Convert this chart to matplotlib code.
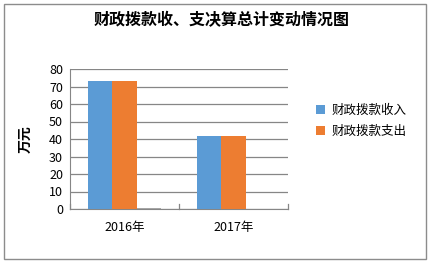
import numpy as np
import matplotlib
matplotlib.use('Agg')
import matplotlib.pyplot as plt
from matplotlib.patches import Rectangle

plt.rcParams['font.family'] = ['Noto Sans CJK SC', 'DejaVu Sans']

# dati
years = ['2016年', '2017年']
income = [73, 42]
expense = [73, 42]
other = [0.5, 0]
series_names = ['财政拨款收入', '财政拨款支出']
yticks = list(range(0, 81, 10))

W, H = 431, 268
fig = plt.figure(figsize=(W / 100, H / 100), dpi=100)

# bordo esterno
fig.patches.append(Rectangle((4 / W, 9 / H), 422 / W, 255 / H, transform=fig.transFigure,
                             fill=False, edgecolor='#8c8c8c', linewidth=1.0))

ax = fig.add_axes([70 / W, 1 - 209 / H, 218 / W, 140 / H])

x = np.arange(len(years))
bw = 0.225
ax.bar(x - bw, income, bw, color='#5B9BD5', label=series_names[0], zorder=3)
ax.bar(x, expense, bw, color='#ED7D31', label=series_names[1], zorder=3)
ax.bar(x + bw, other, bw, color='#A5A5A5', zorder=3)

ax.set_xlim(-0.5, 1.5)
ax.set_ylim(0, 80)
ax.set_yticks(yticks)
ax.yaxis.grid(True, color='#868686', linewidth=0.9, zorder=0)
ax.set_xticks(x)
ax.set_xticklabels(years, fontsize=9)
ax.tick_params(axis='x', length=0, pad=9)
ax.tick_params(axis='y', length=0, labelsize=9, pad=5)
for s in ['top', 'right']:
    ax.spines[s].set_visible(False)
ax.spines['left'].set_color('#868686')
ax.spines['bottom'].set_color('#868686')
# tacche di separazione delle categorie
for xb in [-0.5, 0.5, 1.5]:
    ax.plot([xb, xb], [0, 80 * 5 / 140], color='#868686', linewidth=0.9,
            clip_on=False, zorder=4)

ax.set_ylabel('万元', fontsize=10, fontweight='bold', labelpad=12)

fig.text(222 / W, 1 - 20 / H, '财政拨款收、支决算总计变动情况图', ha='center', va='center',
         fontsize=11.5, fontweight='bold')

ax.legend(loc='center left', bbox_to_anchor=(235 / 218, 0.63), frameon=False,
          fontsize=9, handlelength=0.7, handleheight=0.7, handletextpad=0.5, labelspacing=0.6)

fig.savefig('out.png', dpi=100)
